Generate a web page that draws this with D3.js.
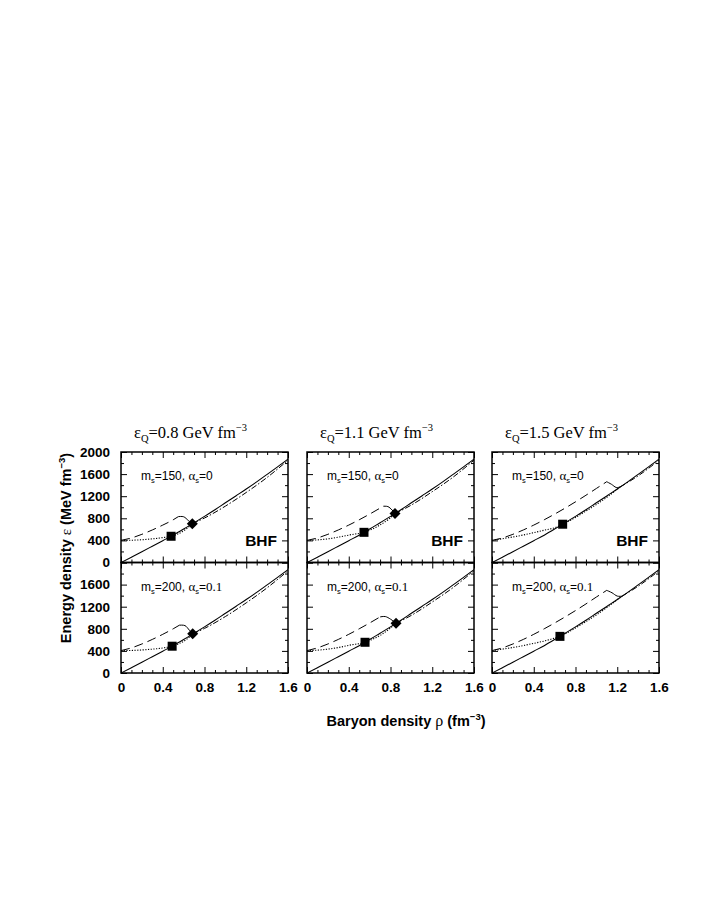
<!DOCTYPE html>
<html><head><meta charset="utf-8">
<script src="https://cdn.jsdelivr.net/npm/d3@7"></script>
<style>body{margin:0;background:#fff}</style>
</head><body>
<svg id="c" width="708" height="917"></svg>
<script>
// ---------------- data ----------------
const columnTitles = ["0.8", "1.1", "1.5"];
const rowMs = ["150", "200"];
const rowAlpha = ["0", "0.1"];
const xTicks = [0, 0.4, 0.8, 1.2, 1.6];
const xMinorTicks = [0.1, 0.2, 0.3, 0.5, 0.6, 0.7, 0.9, 1.0, 1.1, 1.3, 1.4, 1.5];
const yTicksTop = [0, 400, 800, 1200, 1600, 2000];
const yTicksBottom = [0, 400, 800, 1200, 1600];
const yMinorTicks = [200, 600, 1000, 1400, 1800];

// hadronic (BHF) EOS, solid line (same in all panels)
const hadronRho = [0, 0.1, 0.2, 0.3, 0.4, 0.5, 0.6, 0.7, 0.8, 0.9, 1.0, 1.1, 1.2, 1.3, 1.4, 1.5, 1.6];
const hadronEps = [0, 97, 195, 295, 395, 495, 605, 720, 835, 955, 1080, 1205, 1330, 1460, 1595, 1730, 1870];

// pure quark matter, dashed   [rho, eps]
const quarkA1 = [[0,400],[0.1,444],[0.2,510],[0.3,589],[0.4,677],[0.5,773],[0.549,830]];
const quarkA2 = [[0,400],[0.1,444],[0.2,510],[0.3,589],[0.4,677],[0.5,773],[0.6,876],[0.7,984],[0.731,1018]];
const quarkA3 = [[0,400],[0.1,444],[0.2,510],[0.3,589],[0.4,677],[0.5,773],[0.6,876],[0.7,984],[0.8,1098],[0.9,1217],[1.0,1340],[1.099,1462]];
const quarkB1 = [[0,405],[0.1,455],[0.2,525],[0.3,608],[0.4,700],[0.5,800],[0.559,865]];
const quarkB2 = [[0,405],[0.1,455],[0.2,525],[0.3,608],[0.4,700],[0.5,800],[0.6,905],[0.7,1015]];
const quarkB3 = [[0,405],[0.1,455],[0.2,525],[0.3,608],[0.4,700],[0.5,800],[0.6,905],[0.7,1015],[0.8,1130],[0.9,1250],[1.0,1375],[1.099,1496]];

// thin solid connection (quark end -> hadron curve)
const hookA1 = [[0.549,830],[0.6,828],[0.645,760],[0.683,703]];
const hookA2 = [[0.731,1018],[0.775,1012],[0.815,950],[0.843,887]];
const hookA3 = [[1.099,1462],[1.145,1415],[1.19,1358],[1.226,1366]];
const hookB1 = [[0.559,865],[0.613,858],[0.655,775],[0.687,709]];
const hookB2 = [[0.70,1015],[0.75,1022],[0.80,975],[0.853,900]];
const hookB3 = [[1.099,1496],[1.15,1452],[1.2,1392],[1.245,1390]];

// mixed phase, dotted
const mixedA1 = [[0,400],[0.1,403],[0.2,412],[0.3,428],[0.4,450],[0.48,475],[0.55,520],[0.62,600],[0.683,703]];
const mixedA2 = [[0,400],[0.12,412],[0.2,428],[0.32,465],[0.41,500],[0.546,546],[0.62,600],[0.7,680],[0.78,780],[0.843,887]];
const mixedA3 = [[0,400],[0.1,430],[0.2,462],[0.3,498],[0.4,540],[0.5,585],[0.6,630],[0.677,693],[0.8,815],[0.9,930],[1.0,1050],[1.1,1180],[1.226,1366]];
const mixedB1 = [[0,405],[0.1,408],[0.2,417],[0.3,432],[0.4,452],[0.49,485],[0.56,535],[0.63,610],[0.687,709]];
const mixedB2 = [[0,405],[0.12,416],[0.2,432],[0.32,468],[0.41,505],[0.556,556],[0.63,612],[0.71,690],[0.79,800],[0.853,900]];
const mixedB3 = [[0,405],[0.1,432],[0.2,462],[0.3,497],[0.4,537],[0.5,578],[0.58,620],[0.651,663],[0.8,815],[0.9,930],[1.0,1050],[1.1,1185],[1.245,1390]];

// quark phase above transition, dash-dot
const upperA1 = [[0.683,703],[0.8,805],[1.0,1020],[1.2,1268],[1.4,1540],[1.6,1850]];
const upperA2 = [[0.843,887],[1.0,1040],[1.2,1282],[1.4,1545],[1.6,1852]];
const upperA3 = [[1.226,1366],[1.4,1568],[1.6,1850]];
const upperB1 = [[0.687,709],[0.8,807],[1.0,1022],[1.2,1270],[1.4,1542],[1.6,1850]];
const upperB2 = [[0.853,900],[1.0,1043],[1.2,1285],[1.4,1547],[1.6,1852]];
const upperB3 = [[1.245,1390],[1.4,1570],[1.6,1850]];

// markers
const squareRho = [0.48, 0.546, 0.677, 0.49, 0.556, 0.651];
const squareEps = [475, 546, 693, 485, 556, 663];
const diamondRho = [0.683, 0.843, null, 0.687, 0.853, null];
const diamondEps = [703, 887, null, 709, 900, null];

const quarkLines = [quarkA1, quarkA2, quarkA3, quarkB1, quarkB2, quarkB3];
const hookLines = [hookA1, hookA2, hookA3, hookB1, hookB2, hookB3];
const mixedLines = [mixedA1, mixedA2, mixedA3, mixedB1, mixedB2, mixedB3];
const upperLines = [upperA1, upperA2, upperA3, upperB1, upperB2, upperB3];

// ---------------- layout ----------------
const svg = d3.select("#c");
const colLeft = [121, 307, 492];
const pw = 167;
const rowTop = [452, 562.5];
const ph = 110.5;
const SANS = "'Liberation Sans', Arial, Helvetica, sans-serif";
const SERIF = "'Liberation Serif', 'Times New Roman', serif";
const hadron = hadronRho.map((r, i) => [r, hadronEps[i]]);

for (let r = 0; r < 2; r++) {
  for (let c = 0; c < 3; c++) {
    const k = r * 3 + c;
    const L = colLeft[c], R = L + pw, T = rowTop[r], B = T + ph;
    const x = d3.scaleLinear().domain([0, 1.6]).range([L, R]);
    const y = d3.scaleLinear().domain([0, 2000]).range([B, T]);
    const g = svg.append("g");
    const clipId = "clip" + k;
    svg.append("clipPath").attr("id", clipId).append("rect")
      .attr("x", L).attr("y", T).attr("width", pw).attr("height", ph);
    const lines = g.append("g").attr("clip-path", `url(#${clipId})`);
    const lineMono = d3.line().x(d => x(d[0])).y(d => y(d[1])).curve(d3.curveMonotoneX);
    const lineCR = d3.line().x(d => x(d[0])).y(d => y(d[1])).curve(d3.curveCatmullRom);

    // solid hadronic
    lines.append("path").attr("d", lineMono(hadron)).attr("fill", "none")
      .attr("stroke", "#000").attr("stroke-width", 1.1);
    // dash-dot upper
    lines.append("path").attr("d", lineMono(upperLines[k])).attr("fill", "none")
      .attr("stroke", "#000").attr("stroke-width", 1).attr("stroke-dasharray", "6,2,1.5,2");
    // dotted mixed
    lines.append("path").attr("d", lineMono(mixedLines[k])).attr("fill", "none")
      .attr("stroke", "#000").attr("stroke-width", 1.1).attr("stroke-dasharray", "1.2,1.5");
    // dashed quark
    lines.append("path").attr("d", lineMono(quarkLines[k])).attr("fill", "none")
      .attr("stroke", "#000").attr("stroke-width", 1).attr("stroke-dasharray", "9,5");
    // hook
    lines.append("path").attr("d", lineCR(hookLines[k])).attr("fill", "none")
      .attr("stroke", "#000").attr("stroke-width", 1);

    // ticks (inward on all four sides)
    const tk = g.append("g");
    const addAx = (axisFn, scale, vals, size, tx, ty) => {
      tk.append("g").attr("transform", `translate(${tx},${ty})`)
        .call(axisFn(scale).tickValues(vals).tickSize(size).tickFormat(""));
    };
    addAx(d3.axisBottom, x, xTicks, -6, 0, B);
    addAx(d3.axisBottom, x, xMinorTicks, -3, 0, B);
    addAx(d3.axisTop, x, xTicks, -6, 0, T);
    addAx(d3.axisTop, x, xMinorTicks, -3, 0, T);
    addAx(d3.axisLeft, y, yTicksTop, -6, L, 0);
    addAx(d3.axisLeft, y, yMinorTicks, -3, L, 0);
    addAx(d3.axisRight, y, yTicksTop, -6, R, 0);
    addAx(d3.axisRight, y, yMinorTicks, -3, R, 0);
    tk.selectAll(".domain").remove();
    tk.selectAll("line").attr("stroke", "#000").attr("stroke-width", 1);

    // frame
    g.append("rect").attr("x", L).attr("y", T).attr("width", pw).attr("height", ph)
      .attr("fill", "none").attr("stroke", "#000").attr("stroke-width", 1.5);

    // markers
    const sq = 9;
    g.append("rect").attr("x", x(squareRho[k]) - sq / 2).attr("y", y(squareEps[k]) - sq / 2)
      .attr("width", sq).attr("height", sq).attr("fill", "#000");
    if (diamondRho[k] !== null) {
      const dx = x(diamondRho[k]), dy = y(diamondEps[k]), h = 5.5;
      g.append("path").attr("d", `M${dx},${dy - h}L${dx + h},${dy}L${dx},${dy + h}L${dx - h},${dy}Z`)
        .attr("fill", "#000");
    }

    // axis labels
    if (c === 0) {
      const ya = g.append("g").attr("transform", `translate(${L},0)`)
        .call(d3.axisLeft(y).tickValues(r === 0 ? yTicksTop : yTicksBottom).tickSize(0).tickPadding(11).tickFormat(d3.format("d")));
      ya.select(".domain").remove();
      ya.selectAll("text").attr("font-family", SANS).attr("font-weight", "bold").attr("font-size", 13.5).attr("fill", "#000");
    }
    if (r === 1) {
      const xa = g.append("g").attr("transform", `translate(0,${B})`)
        .call(d3.axisBottom(x).tickValues(xTicks).tickSize(0).tickPadding(9.5).tickFormat(d => d === 0 ? "0" : d3.format(".1f")(d)));
      xa.select(".domain").remove();
      xa.selectAll("text").attr("font-family", SANS).attr("font-weight", "bold").attr("font-size", 13.5).attr("fill", "#000");
    }

    // panel annotation m_s, alpha_s
    const t = g.append("text").attr("x", L + 20).attr("y", T + 28)
      .attr("font-family", SANS).attr("font-size", 12).attr("fill", "#000");
    t.append("tspan").text("m");
    t.append("tspan").attr("font-size", 7.5).attr("dy", 3).text("s");
    t.append("tspan").attr("dy", -3).text("=" + rowMs[r] + ", ");
    t.append("tspan").attr("font-family", SERIF).attr("font-size", 13).text("α");
    t.append("tspan").attr("font-size", 7.5).attr("dy", 3).text("s");
    t.append("tspan").attr("dy", -3).text("=");
    t.append("tspan").attr("font-family", r === 1 ? SERIF : SANS).attr("font-size", r === 1 ? 13 : 12).text(rowAlpha[r]);

    if (r === 0) {
      g.append("text").attr("x", R - 11).attr("y", T + 94).attr("text-anchor", "end")
        .attr("font-family", SANS).attr("font-weight", "bold").attr("font-size", 15.5).attr("fill", "#000").text("BHF");
      // column title
      const tt = g.append("text").attr("x", L + 13).attr("y", T - 14)
        .attr("font-family", SERIF).attr("font-size", 16.5).attr("fill", "#000");
      tt.append("tspan").text("ε");
      tt.append("tspan").attr("font-size", 10.5).attr("dy", 4).text("Q");
      tt.append("tspan").attr("dy", -4).text("=" + columnTitles[c] + " GeV fm");
      tt.append("tspan").attr("font-size", 10.5).attr("dy", -7).text("−3");
    }
  }
}

// y-axis title
const yt = svg.append("text").attr("transform", "translate(71,548) rotate(-90)")
  .attr("text-anchor", "middle").attr("font-family", SANS).attr("font-weight", "bold")
  .attr("font-size", 14.5).attr("fill", "#000");
yt.append("tspan").text("Energy density ");
yt.append("tspan").attr("font-family", SERIF).attr("font-weight", "normal").attr("font-size", 15).text("ε");
yt.append("tspan").text(" (MeV fm");
yt.append("tspan").attr("font-size", 9.5).attr("dy", -6).text("−3");
yt.append("tspan").attr("dy", 6).text(")");

// x-axis title
const xt = svg.append("text").attr("x", 406).attr("y", 726)
  .attr("text-anchor", "middle").attr("font-family", SANS).attr("font-weight", "bold")
  .attr("font-size", 14.5).attr("fill", "#000");
xt.append("tspan").text("Baryon density ");
xt.append("tspan").attr("font-family", SERIF).attr("font-weight", "normal").attr("font-size", 16).text("ρ");
xt.append("tspan").text(" (fm");
xt.append("tspan").attr("font-size", 9.5).attr("dy", -6).text("−3");
xt.append("tspan").attr("dy", 6).text(")");
</script>
</body></html>
